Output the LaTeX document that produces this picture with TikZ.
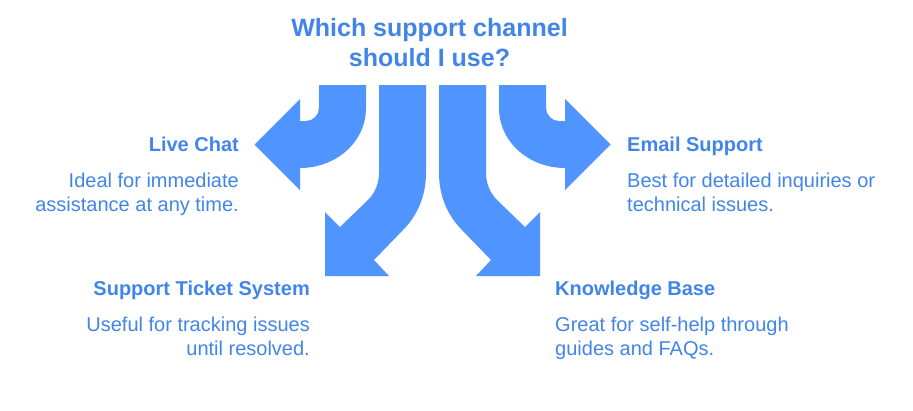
\documentclass[tikz,border=0pt]{standalone}
\usepackage{fontspec}
\setmainfont{Liberation Sans}
\definecolor{arrowblue}{HTML}{4F94FF}
\definecolor{textblue}{HTML}{4285E8}
\tikzset{
  arrowshape/.style={fill=arrowblue,draw=none},
  titletext/.style={text=textblue,font=\fontsize{25}{30}\selectfont\bfseries,align=center,inner sep=0pt},
  headtext/.style={text=textblue,font=\fontsize{20}{24}\selectfont\bfseries,inner sep=0pt},
  bodytext/.style={text=textblue,font=\fontsize{20}{24}\selectfont,inner sep=0pt},
}
\begin{document}
\begin{tikzpicture}[x=1pt,y=-1pt]
\useasboundingbox (0,0) rectangle (913,410);
\fill[white] (0,0) rectangle (913,410);
% Live Chat arrow
\path[arrowshape] (319,85) -- (366,85) -- (366,108)
  .. controls (366,142) and (336,168) .. (300,168)
  -- (300,190) -- (254.5,144.5) -- (300,99) -- (300,121)
  -- (306,121) .. controls (313,121) and (319,115) .. (319,108) -- cycle;
% Support Ticket arrow
\path[arrowshape] (379,85) -- (426,85) -- (426,173)
  .. controls (426,195) and (418,215) .. (403,230)
  -- (374,260) -- (389,276) -- (325,276) -- (325,212) -- (340,227)
  -- (368,200) .. controls (375,193) and (379,183) .. (379,173) -- cycle;
% Email arrow
\path[arrowshape] (546,85) -- (499,85) -- (499,108)
  .. controls (499,142) and (529,168) .. (565,168)
  -- (565,190) -- (610.5,144.5) -- (565,99) -- (565,121)
  -- (559,121) .. controls (552,121) and (546,115) .. (546,108) -- cycle;
% Knowledge Base arrow
\path[arrowshape] (486,85) -- (439,85) -- (439,173)
  .. controls (439,195) and (447,215) .. (462,230)
  -- (491,260) -- (476,276) -- (540,276) -- (540,212) -- (525,227)
  -- (497,200) .. controls (490,193) and (486,183) .. (486,173) -- cycle;
\node[titletext,anchor=base] (title) at (429.5,66.3) {Which support channel\\should I use?};
\node[headtext,anchor=base east] (livehead) at (239,151.2) {Live Chat};
\node[bodytext,anchor=base east,align=right] (livebody) at (239,211) {Ideal for immediate\\assistance at any time.};
\node[headtext,anchor=base west] (emailhead) at (627,151.2) {Email Support};
\node[bodytext,anchor=base west,align=left] (emailbody) at (627,211) {Best for detailed inquiries or\\technical issues.};
\node[headtext,anchor=base east] (tickethead) at (310,295.2) {Support Ticket System};
\node[bodytext,anchor=base east,align=right] (ticketbody) at (310,355) {Useful for tracking issues\\until resolved.};
\node[headtext,anchor=base west] (kbhead) at (555,295.2) {Knowledge Base};
\node[bodytext,anchor=base west,align=left] (kbbody) at (555,355) {Great for self-help through\\guides and FAQs.};
\end{tikzpicture}
\end{document}
